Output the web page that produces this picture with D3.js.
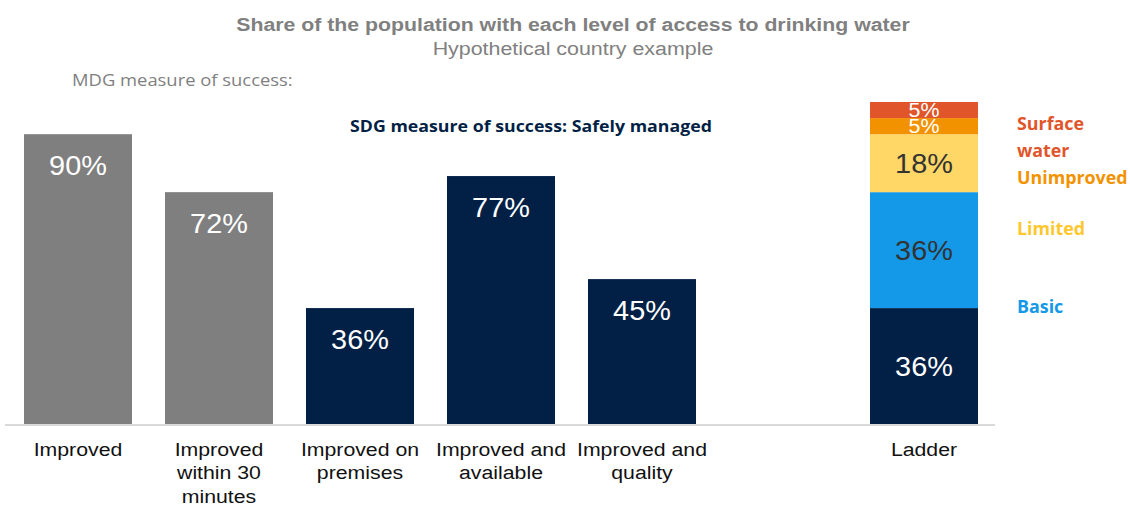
<!DOCTYPE html>
<html>
<head>
<meta charset="utf-8">
<script src="https://cdn.jsdelivr.net/npm/d3@7"></script>
<style>
  body { margin: 0; background: #fff; }
  svg text { font-family: "Liberation Sans", Arial, sans-serif; }
</style>
</head>
<body>
<div id="chartBox"></div>
<script>
// categories along the x axis ("gap" is the empty slot before the ladder)
const categories = ["improved", "within30", "premises", "available", "quality", "gap", "ladder"];
const tickLabels = {
    improved: ["Improved"],
    within30: ["Improved", "within 30", "minutes"],
    premises: ["Improved on", "premises"],
    available: ["Improved and", "available"],
    quality: ["Improved and", "quality"],
    gap: [],
    ladder: ["Ladder"]
};
const barValues = [90, 72, 36, 77, 45];
const barGroups = ["MDG", "MDG", "SDG", "SDG", "SDG"];

// ladder stack, bottom to top
const ladderLevels = ["Safely managed", "Basic", "Limited", "Unimproved", "Surface water"];
const ladderValues = [36, 36, 18, 5, 5];

const width = 1130;
const height = 506;
const baseY = 424;

const colors = {
    MDG: "#7f7f7f",
    SDG: "#021f45",
    "Safely managed": "#021f45",
    "Basic": "#1499e9",
    "Limited": "#fed766",
    "Unimproved": "#f39200",
    "Surface water": "#e1552a"
};
const labelInk = {
    "Safely managed": "#fff",
    "Basic": "#333",
    "Limited": "#333",
    "Unimproved": "#fff",
    "Surface water": "#fff"
};

const svg = d3.select("#chartBox")
    .append("svg")
    .attr("width", width)
    .attr("height", height);

// the reference lettering is a little wider than Liberation Sans, stretch it around its anchor
const stretch = (sel, cx, k) => sel.attr("transform", `translate(${cx},0) scale(${k},1) translate(${-cx},0)`);

const x = d3.scaleBand()
    .domain(categories)
    .range([7.5, 994.5])
    .paddingInner(0.234)
    .paddingOuter(0.117);

const y = d3.scaleLinear()
    .domain([0, 100])
    .range([baseY, 102]);

// titles
svg.append("text")
    .attr("x", 573).attr("y", 31)
    .attr("text-anchor", "middle")
    .attr("font-size", 18.5)
    .attr("font-weight", "bold")
    .attr("fill", "#808080")
    .text("Share of the population with each level of access to drinking water")
    .call(stretch, 573, 1.15);

svg.append("text")
    .attr("x", 573).attr("y", 55)
    .attr("text-anchor", "middle")
    .attr("font-size", 18)
    .attr("fill", "#808080")
    .text("Hypothetical country example")
    .call(stretch, 573, 1.19);

svg.append("text")
    .attr("x", 72).attr("y", 86)
    .attr("font-size", 16)
    .style("font-family", "'Open Sans', sans-serif")
    .attr("fill", "#7f7f7f")
    .text("MDG measure of success:")
    .call(stretch, 72, 1.15);

svg.append("text")
    .attr("x", 531).attr("y", 132)
    .attr("text-anchor", "middle")
    .attr("font-size", 16)
    .attr("font-weight", "bold")
    .style("font-family", "'Open Sans', sans-serif")
    .attr("fill", "#021f45")
    .text("SDG measure of success: Safely managed")
    .call(stretch, 531, 1.11);

// simple bars
const bars = categories.slice(0, barValues.length).map((c, i) => ({
    key: c, value: barValues[i], group: barGroups[i]
}));

svg.append("g")
    .selectAll("rect")
    .data(bars)
    .enter().append("rect")
    .attr("x", d => x(d.key))
    .attr("y", d => y(d.value))
    .attr("width", x.bandwidth())
    .attr("height", d => baseY - y(d.value))
    .attr("fill", d => colors[d.group]);

svg.append("g")
    .selectAll("text")
    .data(bars)
    .enter().append("text")
    .attr("x", d => x(d.key) + x.bandwidth() / 2)
    .attr("y", d => y(d.value) + 41)
    .attr("text-anchor", "middle")
    .attr("font-size", 27)
    .attr("fill", "#fff")
    .text(d => d.value + "%")
    .each(function (d) { stretch(d3.select(this), x(d.key) + x.bandwidth() / 2, 1.07); });

// ladder stack
let acc = 0;
const stack = ladderLevels.map((lvl, i) => {
    const seg = { level: lvl, value: ladderValues[i], y0: acc, y1: acc + ladderValues[i] };
    acc += ladderValues[i];
    return seg;
});

const ladderCx = x("ladder") + x.bandwidth() / 2;
const ladder = svg.append("g");
ladder.selectAll("rect")
    .data(stack)
    .enter().append("rect")
    .attr("x", x("ladder"))
    .attr("y", d => y(d.y1))
    .attr("width", x.bandwidth())
    .attr("height", d => y(d.y0) - y(d.y1))
    .attr("fill", d => colors[d.level]);

ladder.selectAll("text")
    .data(stack)
    .enter().append("text")
    .attr("x", ladderCx)
    .attr("y", d => (y(d.y0) + y(d.y1)) / 2)
    .attr("dy", d => d.value < 10 ? 7 : 10)
    .attr("text-anchor", "middle")
    .attr("font-size", d => d.value < 10 ? 20 : 27)
    .attr("fill", d => labelInk[d.level])
    .text(d => d.value + "%")
    .call(stretch, ladderCx, 1.07);

// ladder legend
const legendItems = [
    { level: "Surface water", lines: ["Surface", "water"], y: 130 },
    { level: "Unimproved", lines: ["Unimproved"], y: 184 },
    { level: "Limited", lines: ["Limited"], y: 235 },
    { level: "Basic", lines: ["Basic"], y: 313 }
];
const legend = svg.append("g");
legendItems.forEach(item => {
    const t = legend.append("text")
        .attr("x", 1017)
        .attr("y", item.y)
        .attr("font-size", 17)
        .attr("font-weight", "bold")
        .style("font-family", "'Open Sans', sans-serif")
        .attr("fill", item.level === "Limited" ? "#fec72e" : colors[item.level])
        .call(stretch, 1017, 1.05);
    item.lines.forEach((ln, j) => {
        t.append("tspan").attr("x", 1017).attr("dy", j ? 27 : 0).text(ln);
    });
});

// baseline
svg.append("line")
    .attr("x1", 5).attr("x2", 995)
    .attr("y1", baseY + 1).attr("y2", baseY + 1)
    .attr("stroke", "#d9d9d9")
    .attr("stroke-width", 2);

// category labels
const tick = svg.append("g")
    .selectAll("text")
    .data(categories)
    .enter().append("text")
    .attr("x", d => x(d) + x.bandwidth() / 2)
    .attr("y", 456)
    .attr("text-anchor", "middle")
    .attr("font-size", 19)
    .attr("fill", "#111")
    .each(function (d) { stretch(d3.select(this), x(d) + x.bandwidth() / 2, 1.12); });

tick.selectAll("tspan")
    .data(d => tickLabels[d].map(t => ({ t, c: d })))
    .enter().append("tspan")
    .attr("x", d => x(d.c) + x.bandwidth() / 2)
    .attr("dy", (d, i) => i ? 23.5 : 0)
    .text(d => d.t);
</script>
</body>
</html>
